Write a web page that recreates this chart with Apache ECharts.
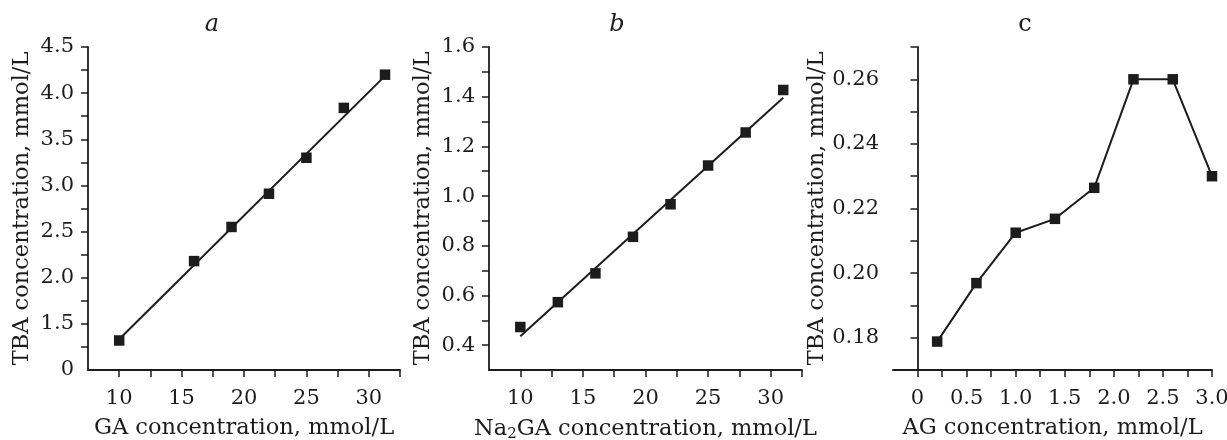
<!DOCTYPE html>
<html>
<head>
<meta charset="utf-8">
<script src="https://cdn.jsdelivr.net/npm/echarts/dist/echarts.min.js"></script>
<style>
html,body{margin:0;padding:0;background:#fff;}
#chart{width:1227px;height:440px;}
</style>
</head>
<body>
<div id="chart"></div>
<script>
// Panel a: GA
const gaX = [10, 16, 19, 22, 25, 28, 31.3];
const gaY = [1.32, 2.18, 2.55, 2.91, 3.30, 3.84, 4.20];
const gaFitX = [10.2, 31.1];
const gaFitY = [1.36, 4.16];

// Panel b: Na2GA
const naX = [10, 13, 16, 19, 22, 25, 28, 31];
const naY = [0.473, 0.573, 0.689, 0.836, 0.967, 1.123, 1.256, 1.427];
const naFitX = [10, 31];
const naFitY = [0.436, 1.396];

// Panel c: AG
const agX = [0.2, 0.6, 1.0, 1.4, 1.8, 2.2, 2.6, 3.0];
const agY = [0.1788, 0.1969, 0.2125, 0.2168, 0.2264, 0.26, 0.26, 0.23];

// Tick positions and labels
const xTicksAB = [10, 12.5, 15, 17.5, 20, 22.5, 25, 27.5, 30, 32.5];
const xLabelsAB = [10, 15, 20, 25, 30];
const xTicksC = [0, 0.25, 0.5, 0.75, 1.0, 1.25, 1.5, 1.75, 2.0, 2.25, 2.5, 2.75, 3.0];
const xLabelsC = [0, 0.5, 1.0, 1.5, 2.0, 2.5, 3.0];
const yTicksA = [1.25, 1.5, 1.75, 2.0, 2.25, 2.5, 2.75, 3.0, 3.25, 3.5, 3.75, 4.0, 4.25, 4.5];
const yLabelsA = [1.0, 1.5, 2.0, 2.5, 3.0, 3.5, 4.0, 4.5];
const yTicksB = [0.4, 0.5, 0.6, 0.7, 0.8, 0.9, 1.0, 1.1, 1.2, 1.3, 1.4, 1.5, 1.6];
const yLabelsB = [0.4, 0.6, 0.8, 1.0, 1.2, 1.4, 1.6];
const yTicksC = [0.18, 0.19, 0.20, 0.21, 0.22, 0.23, 0.24, 0.25, 0.26, 0.27];
const yLabelsC = [0.18, 0.20, 0.22, 0.24, 0.26];

const titles = ['a', 'b', 'c'];
const yName = 'TBA concentration, mmol/L';
const xNames = ['GA concentration, mmol/L', 'Na2GA concentration, mmol/L', 'AG concentration, mmol/L'];

const FONT = 'DejaVu Serif';
const INK = '#1c1c1c';
const FS = 21;
const NFS = 22.5;

function zip(xs, ys) { return xs.map((x, i) => [x, ys[i]]); }

const grids = [
  {left: 88, top: 47, width: 312, height: 323, outerBoundsMode: 'none', containLabel: false},
  {left: 489, top: 47, width: 313, height: 323, outerBoundsMode: 'none', containLabel: false},
  {left: 893, top: 47, width: 319, height: 323, outerBoundsMode: 'none', containLabel: false}
];

function axisBase(idx, min, max, ticks, labels, fmt, name, isX) {
  return {
    type: 'value', gridIndex: idx, min: min, max: max,
    name: name, nameLocation: 'middle', nameGap: isX ? 47 : 54,
    nameTextStyle: {color: INK, fontFamily: FONT, fontSize: NFS},
    axisLine: {show: true, lineStyle: {color: INK, width: 1.8}},
    axisTick: {show: true, inside: false, length: 7, customValues: ticks, lineStyle: {color: INK, width: 1.5}},
    splitLine: {show: false},
    axisLabel: {color: INK, fontFamily: FONT, fontSize: FS, customValues: labels, formatter: fmt, margin: isX ? 18 : 14}
  };
}

const fmtInt = v => String(Math.round(v));
const fmtC = v => (Math.abs(v) < 1e-9 ? '0' : v.toFixed(1));
const fmtA = v => (Math.abs(v - 1) < 1e-9 ? '0' : v.toFixed(1));
const fmt1 = v => v.toFixed(1);
const fmt2 = v => v.toFixed(2);

const xA = axisBase(0, 7.5, 32.5, xTicksAB, xLabelsAB, fmtInt, xNames[0], true);
const xB = axisBase(1, 7.5, 32.5, xTicksAB, xLabelsAB, fmtInt, '{t|Na}{s|2}{t|GA concentration, mmol/L}', true);
xB.nameTextStyle.rich = {
  t: {fontFamily: FONT, fontSize: NFS, color: INK},
  s: {fontFamily: FONT, fontSize: 15, color: INK, verticalAlign: 'bottom', padding: [10, 0, 0, 0]}
};
const xC = axisBase(2, -0.25, 3.0, xTicksC, xLabelsC, fmtC, xNames[2], true);

const yA = axisBase(0, 1.0, 4.5, yTicksA, yLabelsA, fmtA, yName, false);
const yB = axisBase(1, 0.3, 1.6, yTicksB, yLabelsB, fmt1, yName, false);
const yC = axisBase(2, 0.17, 0.27, yTicksC, yLabelsC, fmt2, yName, false);

const marker = {symbol: 'rect', symbolSize: 10.5, itemStyle: {color: INK, opacity: 1}};
const titleStyle = {fontFamily: FONT, fontSize: 24, fontWeight: 'normal', color: INK};

const option = {
  backgroundColor: '#fff',
  animation: false,
  title: [
    {text: titles[0], left: 207, top: 8, textAlign: 'center', textStyle: Object.assign({fontStyle: 'italic'}, titleStyle)},
    {text: titles[1], left: 612, top: 8, textAlign: 'center', textStyle: Object.assign({fontStyle: 'italic'}, titleStyle)},
    {text: titles[2], left: 1020, top: 8, textAlign: 'center', textStyle: titleStyle}
  ],
  grid: grids,
  xAxis: [xA, xB, xC],
  yAxis: [yA, yB, yC],
  series: [
    {type: 'line', xAxisIndex: 0, yAxisIndex: 0, data: zip(gaFitX, gaFitY), showSymbol: false, lineStyle: {color: INK, width: 2}, z: 2},
    Object.assign({type: 'scatter', xAxisIndex: 0, yAxisIndex: 0, data: zip(gaX, gaY), z: 3}, marker),
    {type: 'line', xAxisIndex: 1, yAxisIndex: 1, data: zip(naFitX, naFitY), showSymbol: false, lineStyle: {color: INK, width: 2}, z: 2},
    Object.assign({type: 'scatter', xAxisIndex: 1, yAxisIndex: 1, data: zip(naX, naY), z: 3}, marker),
    Object.assign({type: 'line', xAxisIndex: 2, yAxisIndex: 2, data: zip(agX, agY), showSymbol: true, lineStyle: {color: INK, width: 2}, z: 3}, marker)
  ]
};

const chart = echarts.init(document.getElementById('chart'), null, {renderer: 'canvas'});
chart.setOption(option);
</script>
</body>
</html>
